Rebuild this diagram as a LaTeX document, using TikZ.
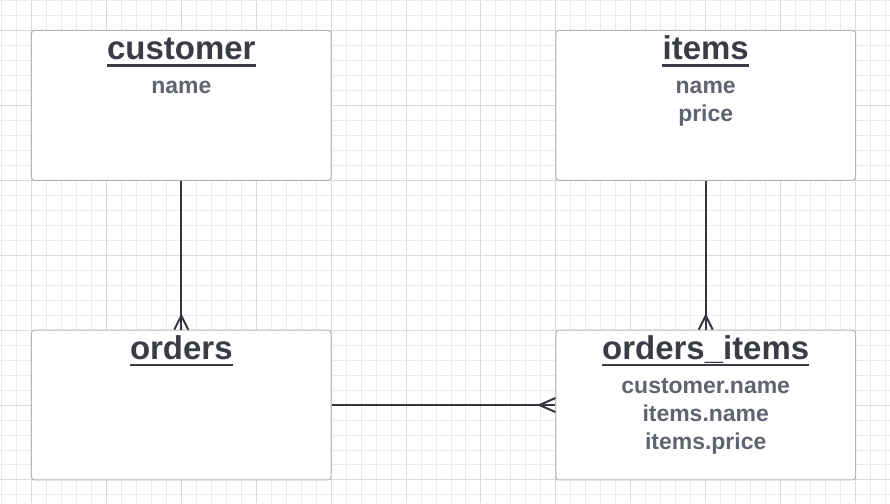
\documentclass[tikz,border=0pt]{standalone}
\usepackage{fontspec}
\setmainfont{Liberation Sans}
\usetikzlibrary{calc}

\definecolor{gridminor}{HTML}{EBEBEB}
\definecolor{gridmajor}{HTML}{DADADA}
\definecolor{boxline}{HTML}{B0B3B8}
\definecolor{inkdark}{HTML}{393C44}
\definecolor{inkgrey}{HTML}{5F6470}
\definecolor{relline}{HTML}{33363D}

\begin{document}
\begin{tikzpicture}[x=1pt, y=-1pt,
    entity/.style = {draw=boxline, line width=1pt, fill=white, rounded corners=3pt,
                     minimum width=300pt, minimum height=150pt, inner sep=0pt},
    title/.style = {anchor=base, inner sep=0pt, text=inkdark,
                    font=\fontsize{33}{33}\selectfont\bfseries},
    attr/.style = {anchor=base, inner sep=0pt, text=inkgrey,
                   font=\fontsize{23}{23}\selectfont\bfseries},
    uline/.style = {draw=inkdark, line width=2.6pt},
    rel/.style = {draw=relline, line width=2pt}]
        % grid
        \fill [white] (0, 0) rectangle (890, 503);
        \foreach \x in {1, 16, ..., 890}
            \draw [gridminor, line width=1pt] (\x, 0) -- (\x, 503);
        \foreach \y in {0, 15, ..., 503}
            \draw [gridminor, line width=1pt] (0, \y) -- (890, \y);
        \foreach \x in {31, 106, ..., 890}
            \draw [gridmajor, line width=1pt] (\x, 0) -- (\x, 503);
        \foreach \y in {30, 105, ..., 503}
            \draw [gridmajor, line width=1pt] (0, \y) -- (890, \y);
        \useasboundingbox (0, 0) rectangle (890, 503);

        % entities
        \node [entity] (customer) at (181, 105) {};
        \node [entity] (items) at (706, 105) {};
        \node [entity] (orders) at (181, 405) {};
        \node [entity] (ordersitems) at (706, 405) {};

        \node [title] (customertitle) at (181, 59) {customer};
        \node [attr] (customername) at (181, 93) {name};

        \node [title] (itemstitle) at (706, 59) {items};
        \node [attr] (itemsname) at (706, 93) {name};
        \node [attr] (itemsprice) at (706, 121) {price};

        \node [title] (orderstitle) at (181, 359) {orders};

        \node [title] (ordersitemstitle) at (706, 359) {orders\textunderscore items};
        \node [attr] (oicustname) at (706, 393) {customer.name};
        \node [attr] (oiitemsname) at (706, 421) {items.name};
        \node [attr] (oiitemsprice) at (706, 449) {items.price};

        % underlines
        \foreach \t in {customertitle, itemstitle, orderstitle, ordersitemstitle}
            \draw [uline] ($(\t.base west) + (0, 6)$) -- ($(\t.base east) + (0, 6)$);

        % relations
        \draw [rel] (customer.south) -- (orders.north);
        \draw [rel] (orders.north -| customer.south) ++(0, -14) coordinate (cf1)
            (orders.north) ++(-7, 0) -- (cf1) -- ($(orders.north) + (7, 0)$);
        \draw [rel] (items.south) -- (ordersitems.north);
        \draw [rel] (ordersitems.north) ++(0, -14) coordinate (cf2)
            (ordersitems.north) ++(-7, 0) -- (cf2) -- ($(ordersitems.north) + (7, 0)$);
        \draw [rel] (orders.east) -- (ordersitems.west);
        \draw [rel] (ordersitems.west) ++(-16, 0) coordinate (cf3)
            (ordersitems.west) ++(0, -7) -- (cf3) -- ($(ordersitems.west) + (0, 7)$);
\end{tikzpicture}
\end{document}
